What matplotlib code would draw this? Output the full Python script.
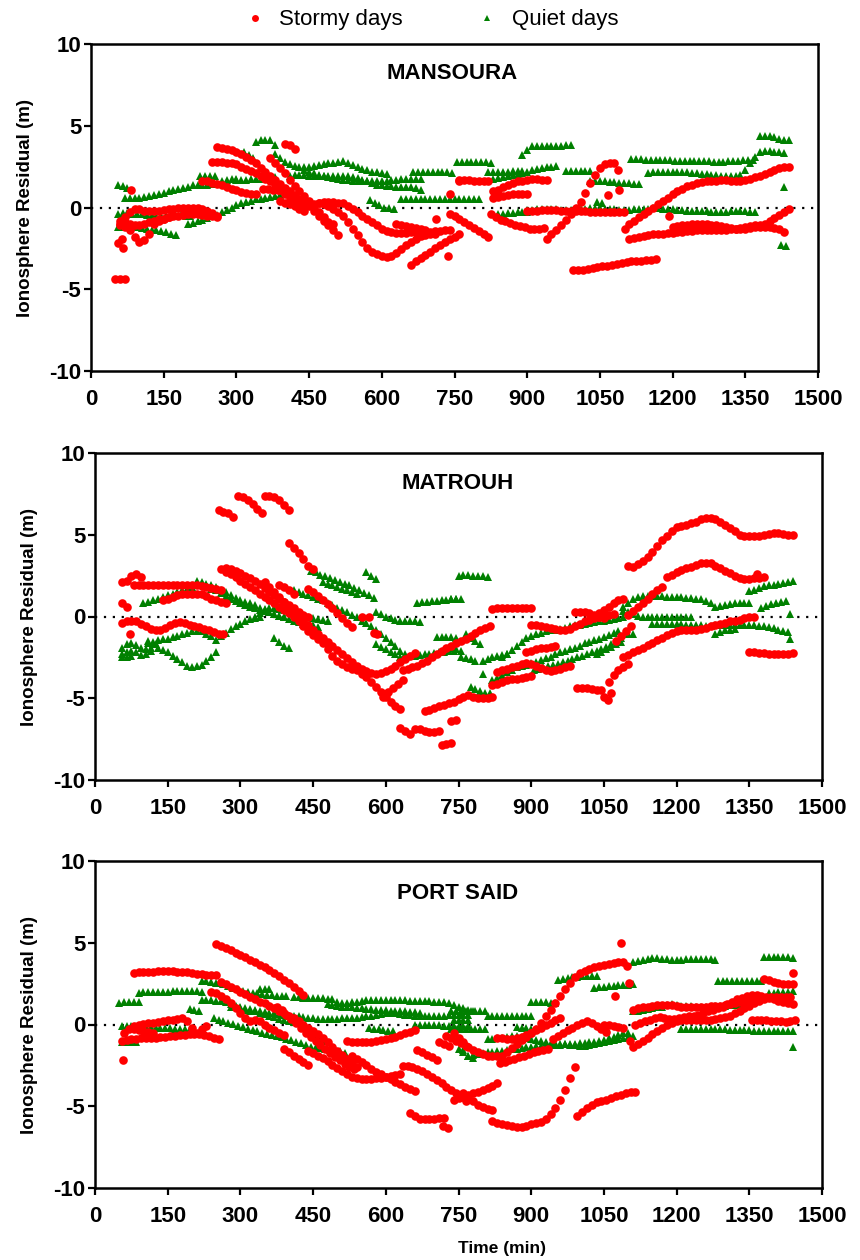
import matplotlib
matplotlib.use("Agg")
import matplotlib.pyplot as plt
from matplotlib.lines import Line2D

plt.rcParams["font.family"] = ["Liberation Sans", "DejaVu Sans"]
plt.rcParams["axes.unicode_minus"] = False

# every track is (start time in min, residuals sampled every STEP min)
STEP = 10

mansoura_storm = [
    (50, [-4.35, -4.35, -4.35]),
    (55, [-2.2]), (63, [-1.9]), (67, [-2.5]), (82, [1.05]),
    (60, [-1.0, -0.6, -0.3, -0.1, -0.1, -0.2, -0.2, -0.2, -0.2, -0.15, -0.1, -0.1, -0.05, 0.0, 0.0, 0.0,
          -0.05, -0.1, -0.2, -0.35, -0.5]),
    (60, [-1.1, -1.2, -1.4, -1.8, -2.1, -2.0, -1.6, -1.0, -0.8, -0.7, -0.6, -0.5, -0.5, -0.45, -0.4, -0.4,
          -0.4, -0.45, -0.5, -0.55, -0.6]),
    (60, [-0.8, -0.9, -1.0, -1.1, -1.1, -1.0, -0.9, -0.8, -0.7, -0.7, -0.6]),
    (260, [3.7, 3.65, 3.6, 3.5, 3.4, 3.25, 3.1, 2.9, 2.7, 2.4, 2.15, 1.9, 1.7, 1.45, 1.2, 1.0, 0.75, 0.55,
           0.35, 0.1, -0.2, -0.5, -0.8, -1.1, -1.4, -1.7]),
    (250, [2.8, 2.8, 2.8, 2.75, 2.7, 2.65, 2.5, 2.35, 2.25, 2.1, 1.9, 1.75, 1.6, 1.35, 1.05, 0.8, 0.6, 0.45,
           0.3, 0.2, 0.15, 0.2, 0.3, 0.35, 0.35, 0.35, 0.3, 0.25, 0.1, -0.1, -0.3, -0.5, -0.7, -0.9, -1.1,
           -1.3, -1.45, -1.5, -1.55, -1.55, -1.55, -1.5, -1.5, -1.5, -1.5, -1.5, -1.45, -1.45, -1.4, -1.4]),
    (470, [0.3, 0.2, 0.1, -0.1, -0.3, -0.5, -0.9, -1.3, -1.7, -2.1, -2.45, -2.7, -2.85, -2.95, -3.0, -2.95,
           -2.8, -2.55, -2.3, -2.1, -1.9, -1.75, -1.7, -1.65, -1.6]),
    (370, [3.0, 2.7, 2.4, 2.1, 1.7, 1.3, 1.0, 0.7, 0.4, 0.0, -0.3, -0.6, -0.9, -1.0]),
    (400, [3.9, 3.8, 3.6]),
    (230, [1.65, 1.6, 1.5, 1.45, 1.35, 1.25, 1.15, 1.05, 0.95, 0.9, 0.85, 0.8]),
    (355, [1.15, 1.15, 1.1, 1.1]),
    (390, [0.4, 0.3, 0.2, 0.1, -0.1, -0.2]),
    (630, [-1.0, -1.1, -1.15, -1.2, -1.25, -1.3, -1.35]),
    (660, [-3.5, -3.3, -3.1, -2.9, -2.7, -2.5, -2.3, -2.1, -1.95, -1.8, -1.65]),
    (737, [-2.95]), (712, [-0.7]), (740, [0.8]), (760, [1.6]),
    (760, [1.7, 1.7, 1.7, 1.65, 1.65, 1.65, 1.6]),
    (830, [1.0, 1.1, 1.25, 1.4, 1.5, 1.6, 1.65, 1.7, 1.75, 1.75, 1.7, 1.7]),
    (830, [0.6, 0.65, 0.7, 0.75, 0.8, 0.8, 0.8, 0.8]),
    (740, [-0.4, -0.55, -0.7, -0.9, -1.05, -1.25, -1.45, -1.6, -1.8]),
    (825, [-0.4, -0.6, -0.75, -0.85, -0.95, -1.05, -1.15, -1.2, -1.3, -1.3, -1.3, -1.25]),
    (900, [-0.2, -0.2, -0.2, -0.15, -0.15, -0.15, -0.15, -0.2, -0.2, -0.2, -0.2, -0.2, -0.2, -0.25, -0.25,
           -0.25, -0.3, -0.3, -0.3, -0.3, -0.3]),
    (940, [-1.9, -1.65, -1.4, -1.1, -0.75, -0.4, -0.05, 0.35, 0.9, 1.5, 2.0, 2.4, 2.65, 2.75, 2.75]),
    (1087, [2.3]), (1066, [0.75]), (1090, [1.05]), (1101, [-1.3]), (1193, [-0.5]),
    (995, [-3.85, -3.85, -3.8, -3.75, -3.7, -3.65, -3.6, -3.55, -3.5, -3.45, -3.4, -3.35, -3.3, -3.3, -3.25,
           -3.2, -3.2, -3.15]),
    (1110, [-1.0, -0.8, -0.6, -0.4, -0.2, 0.0, 0.2, 0.4, 0.6, 0.8, 1.0, 1.15, 1.3, 1.4, 1.5, 1.55, 1.6, 1.6,
            1.65, 1.7, 1.7, 1.65, 1.65, 1.65, 1.7, 1.75, 1.85, 1.95, 2.05, 2.2, 2.3, 2.4, 2.45, 2.45]),
    (1110, [-1.9, -1.85, -1.8, -1.75, -1.7, -1.65, -1.65, -1.6, -1.55, -1.55, -1.5, -1.5, -1.45, -1.45, -1.4,
            -1.4, -1.4, -1.4, -1.35, -1.35, -1.35, -1.3, -1.3, -1.25, -1.2, -1.15, -1.1, -1.05, -1.0, -0.85,
            -0.65, -0.45, -0.25, -0.1]),
    (1200, [-1.2, -1.15, -1.1, -1.05, -1.0, -1.0, -1.0, -1.0, -1.05, -1.1, -1.15, -1.2, -1.25, -1.3, -1.3,
            -1.3, -1.25, -1.2, -1.2, -1.2, -1.2, -1.25, -1.3, -1.5]),
]

mansoura_quiet = [
    (55, [1.35, 1.3, 1.2]),
    (70, [0.6, 0.6, 0.6, 0.6, 0.65, 0.7, 0.75, 0.85, 0.9, 1.0, 1.1, 1.15, 1.2, 1.25, 1.35, 1.35, 1.35, 1.4,
          1.45, 1.5, 1.6, 1.7, 1.75, 1.75]),
    (225, [1.95, 1.95, 1.95, 1.9]),
    (55, [-0.4, -0.35, -0.35, -0.4, -0.4, -0.4, -0.45, -0.45, -0.5, -0.5, -0.5, -0.5, -0.5, -0.45, -0.5, -0.5]),
    (55, [-1.2, -1.2, -1.2, -1.2, -1.2, -1.25, -1.3, -1.35, -1.4, -1.45, -1.5, -1.6, -1.7]),
    (200, [-1.0, -0.95, -0.85, -0.75, -0.65, -0.55, -0.45, -0.3, -0.15, 0.0, 0.15, 0.3, 0.35, 0.4, 0.5, 0.55,
           0.6, 0.65, 0.7, 0.75]),
    (300, [1.7, 1.7, 1.7, 1.75, 1.75, 1.75, 1.8, 1.8, 1.85]),
    (315, [3.4, 3.2, 3.0]),
    (340, [4.0, 4.1, 4.15, 4.1, 3.8]),
    (380, [3.3, 3.0, 2.8, 2.65, 2.55, 2.5, 2.5, 2.5, 2.55, 2.6, 2.65, 2.7, 2.75, 2.8, 2.85, 2.75, 2.6, 2.45,
           2.35, 2.3, 2.2, 2.15, 2.1, 2.05]),
    (410, [1.95, 2.0, 2.0, 2.0, 1.95, 1.95, 1.95, 1.95, 1.95, 1.9, 1.9, 1.9, 1.9, 1.85, 1.8, 1.7, 1.6, 1.5,
           1.4, 1.35, 1.3, 1.3, 1.25, 1.25, 1.25, 1.25, 1.2, 1.1]),
    (440, [2.3, 2.2, 2.1, 2.0, 1.9, 1.85, 1.8, 1.75, 1.7, 1.7, 1.65, 1.65, 1.6, 1.6, 1.6, 1.6, 1.65, 1.65,
           1.7, 1.7, 1.75, 1.75, 1.75, 1.75, 1.75]),
    (575, [0.45, 0.3, 0.15, 0.0, -0.05, -0.1]),
    (640, [0.55, 0.55, 0.5, 0.5, 0.5, 0.5, 0.5, 0.5, 0.5, 0.5, 0.5, 0.5, 0.5, 0.5, 0.5, 0.5, 0.5]),
    (665, [2.2, 2.2, 2.2, 2.2, 2.2, 2.15, 2.15, 2.15, 2.1]),
    (755, [2.8, 2.8, 2.8, 2.8, 2.8, 2.8, 2.8, 2.75]),
    (820, [2.15, 2.15, 2.2, 2.2, 2.2, 2.25, 2.25, 2.25]),
    (830, [1.75, 1.8, 1.85, 1.9, 2.0, 2.05, 2.1, 2.2, 2.3, 2.35, 2.4, 2.45, 2.5, 2.55]),
    (890, [3.2, 3.5, 3.75, 3.75, 3.75, 3.75, 3.75, 3.75, 3.75, 3.8, 3.8]),
    (980, [2.25, 2.25, 2.25, 2.25, 2.25, 2.25]),
    (1030, [1.65, 1.6, 1.6, 1.6, 1.55, 1.55, 1.5, 1.5, 1.5, 1.45, 1.45]),
    (840, [-0.4, -0.4, -0.35, -0.35, -0.3, -0.3, -0.25]),
    (900, [-0.15, -0.15, -0.1, -0.1, -0.1, -0.1, -0.1, -0.15, -0.15, -0.15, -0.1, -0.1, -0.1, -0.05, -0.05,
           -0.05, -0.1, -0.1, -0.1, -0.15, -0.15, -0.15, -0.1, -0.1, -0.1, -0.1, -0.05, -0.05, -0.1, -0.1,
           -0.1, -0.15, -0.15, -0.2, -0.2, -0.2, -0.2, -0.2, -0.25, -0.25, -0.25, -0.25, -0.2, -0.2, -0.2,
           -0.2, -0.25, -0.3]),
    (1045, [0.35, 0.3]),
    (1115, [2.95, 2.95, 2.95, 2.9, 2.9, 2.9, 2.9, 2.9, 2.9, 2.85, 2.85, 2.85, 2.85, 2.85, 2.85, 2.85, 2.85,
            2.8, 2.8, 2.8, 2.85, 2.85, 2.85, 2.9, 2.9, 2.9]),
    (1150, [2.1, 2.15, 2.2, 2.2, 2.2, 2.2, 2.2, 2.15, 2.15, 2.1, 2.1, 2.05, 2.05, 2.0, 2.0, 1.95, 1.95, 1.95,
            1.9]),
    (1340, [2.0, 2.3, 2.7, 3.1, 3.4, 3.45, 3.45, 3.4, 3.4, 3.35]),
    (1380, [4.4, 4.4, 4.35, 4.3, 4.2, 4.15, 4.15]),
    (1430, [1.25]), (1423, [-2.3]), (1433, [-2.35]),
]

matrouh_storm = [
    (55, [2.1, 2.2, 2.5, 2.6, 2.4]),
    (80, [1.9, 1.9, 1.95, 1.95, 1.95, 1.95, 1.95, 1.95, 1.95, 1.95, 1.95, 1.95, 1.9, 1.9, 1.85, 1.8, 1.75,
          1.7, 1.6]),
    (55, [0.8, 0.6]),
    (140, [1.0, 1.1, 1.2, 1.3, 1.35, 1.4, 1.4, 1.4, 1.35, 1.25, 1.1, 1.0, 0.9, 0.8]),
    (55, [-0.4, -0.3, -0.25, -0.3, -0.45, -0.6, -0.75, -0.85, -0.8, -0.7, -0.55, -0.4, -0.35, -0.4, -0.5,
          -0.6, -0.65, -0.75, -0.85, -0.95, -1.05, -1.1]),
    (72, [-1.1]),
    (255, [6.5, 6.4, 6.3, 6.1]),
    (295, [7.4, 7.3, 7.1, 6.9, 6.6, 6.3]),
    (350, [7.4, 7.35, 7.3, 7.1, 6.8, 6.5]),
    (400, [4.5, 4.2, 3.9, 3.5, 3.1, 2.9]),
    (260, [2.9, 2.75, 2.6, 2.4, 2.2, 2.0, 1.8, 1.6, 1.4, 1.2, 1.0, 0.8, 0.6, 0.4, 0.2, 0.0, -0.3, -0.6, -0.9,
           -1.15, -1.4, -1.65, -2.0, -2.4, -2.7, -2.9, -3.1, -3.2, -3.3, -3.5, -3.7, -4.0, -4.3, -4.6, -4.9,
           -5.2, -5.45, -5.65]),
    (270, [2.95, 2.9, 2.8, 2.65, 2.5, 2.35, 2.2, 2.0, 1.75, 1.5, 1.3, 1.1, 0.9, 0.7, 0.5, 0.3, 0.1, -0.05]),
    (350, [2.1, 1.8, 1.5, 1.2, 0.9, 0.6, 0.3, 0.0, -0.3, -0.55, -0.8, -1.05, -1.3, -1.55, -1.8, -2.05, -2.3,
           -2.55, -2.8, -3.0, -3.2, -3.35, -3.45, -3.5, -3.45, -3.35, -3.2, -3.0, -2.8, -2.6, -2.4, -2.25]),
    (440, [1.7, 1.5, 1.25, 1.0, 0.75, 0.5, 0.2, -0.1, -0.4, -0.65]),
    (380, [1.9, 1.8, 1.6, 1.4]),
    (550, [0.0]), (565, [-0.05]), (575, [-1.0]), (582, [-1.1]),
    (595, [-4.9, -4.6, -4.35, -4.1, -3.9]),
    (635, [-3.3, -3.2, -3.1, -3.0, -2.85, -2.7, -2.5, -2.3, -2.1, -1.95, -1.8, -1.65, -1.5, -1.35, -1.2,
           -1.0, -0.85, -0.7, -0.6]),
    (680, [-5.8, -5.7, -5.6, -5.5, -5.4, -5.3, -5.2, -5.05, -4.9, -4.8, -4.9, -5.0, -5.0, -5.0, -4.95]),
    (630, [-6.8, -7.0, -7.2]),
    (660, [-6.9, -6.9, -7.0, -7.05, -7.05, -7.0]),
    (715, [-7.85, -7.8, -7.75]),
    (735, [-6.4, -6.3]),
    (820, [0.45, 0.5, 0.5, 0.55, 0.55, 0.55, 0.55, 0.55, 0.55]),
    (900, [-0.5, -0.55, -0.6, -0.65, -0.7, -0.75, -0.8, -0.8, -0.75, -0.6, -0.45, -0.3, -0.2, -0.1, 0.0,
           0.05, 0.1, 0.15]),
    (990, [0.3, 0.3, 0.25, 0.2, 0.1, 0.0, -0.1]),
    (1040, [0.2, 0.4, 0.6, 0.8, 1.0, 1.1]),
    (820, [-4.2, -4.1, -4.0, -3.9, -3.85, -3.8, -3.75, -3.7, -3.65]),
    (830, [-3.4, -3.3, -3.2, -3.1, -3.0, -2.9, -2.85, -2.9, -3.0, -3.15, -3.3, -3.35, -3.3, -3.2, -3.1, -3.0]),
    (890, [-2.2, -2.1, -2.0, -1.95, -1.9, -1.85, -1.8]),
    (995, [-4.35, -4.35, -4.4, -4.45, -4.5, -4.5]),
    (1050, [-4.9]), (1058, [-5.1]), (1065, [-4.7]),
    (1060, [-4.0, -3.6, -3.3, -3.1, -2.9]),
    (1075, [-1.5, -1.2, -0.9, -0.6]),
    (1090, [-2.5, -2.35, -2.2, -2.05, -1.9, -1.75, -1.6, -1.45, -1.3, -1.15, -1.0, -0.9, -0.85, -0.8, -0.8,
            -0.8, -0.75, -0.7, -0.6, -0.5, -0.45, -0.4, -0.3, -0.25, -0.2, -0.1, -0.05, 0.0]),
    (1100, [0.1, 0.35, 0.6, 0.85, 1.1, 1.35, 1.6, 1.8]),
    (1180, [2.4, 2.55, 2.7, 2.85, 2.95, 3.05, 3.15, 3.25, 3.3, 3.25, 3.1, 2.95, 2.8, 2.65, 2.5, 2.35, 2.3,
            2.3, 2.35, 2.35, 2.4]),
    (1365, [2.6]),
    (1100, [3.1, 3.0, 3.2, 3.4, 3.65, 3.95, 4.3, 4.65, 4.95, 5.25, 5.45, 5.55, 5.6, 5.7, 5.8, 5.95, 6.05,
            6.05, 5.95, 5.8, 5.6, 5.4, 5.2, 5.0, 4.95, 4.95, 4.95, 4.95, 5.0, 5.05, 5.1, 5.1, 5.05, 5.0, 5.0]),
    (1350, [-2.2, -2.2, -2.25, -2.25, -2.3, -2.3, -2.3, -2.3, -2.3, -2.25]),
]

matrouh_quiet = [
    (55, [-1.9, -1.7, -1.6, -1.75, -1.9, -2.0, -1.9, -1.7]),
    (55, [-2.3, -2.2, -2.1, -2.2, -2.35, -2.3, -2.1]),
    (55, [-2.5, -2.45, -2.4]),
    (110, [-1.5, -1.7, -1.9, -2.05, -2.2, -2.4, -2.6, -2.8, -3.0, -3.1, -3.05, -2.95, -2.7, -2.45, -2.2]),
    (110, [-1.65, -1.55, -1.45, -1.4, -1.35, -1.27, -1.2, -1.1, -1.0, -0.9, -0.86, -0.9, -1.05, -1.2]),
    (250, [-1.45, -1.2, -1.0, -0.75, -0.6, -0.45, -0.3, -0.15, -0.1, -0.05]),
    (100, [0.8, 0.9, 1.0, 1.1, 1.2, 1.3, 1.4, 1.5, 1.6, 1.7, 1.8, 1.95, 1.95, 1.85, 1.7, 1.6, 1.45, 1.25,
           1.05, 0.95, 0.8, 0.7, 0.6, 0.5, 0.4, 0.35, 0.25, 0.15, 0.05, -0.05, -0.15, -0.25, -0.35, -0.45,
           -0.5, -0.55, -0.65]),
    (210, [2.2, 2.1, 2.0, 1.9, 1.8, 1.65, 1.5, 1.3, 1.15, 1.0, 0.9, 0.8, 0.7, 0.55, 0.4, 0.3, 0.15, 0.05,
           -0.05]),
    (330, [-0.05, 0.2, 0.45, 0.55, 0.5, 0.45, 0.4, 0.3, 0.2, 0.1, 0.0, -0.05, -0.1, -0.15, -0.2, -0.25]),
    (370, [-1.3, -1.55, -1.8, -1.9]),
    (410, [1.6, 1.5, 1.4, 1.3, 1.2, 1.1, 1.0, 0.85, 0.7, 0.55, 0.4, 0.25, 0.1, -0.05, -0.25, -0.4, -0.6,
           -0.85, -1.1, -1.3, -1.55, -1.8, -2.1, -2.3]),
    (445, [2.8, 2.7, 2.55, 2.45, 2.35, 2.25, 2.1, 2.0, 1.9, 1.75, 1.6, 1.45, 1.3, 1.15]),
    (470, [2.1, 2.0, 1.9, 1.8, 1.7, 1.6, 1.5, 1.4]),
    (560, [2.7, 2.5, 2.3]),
    (580, [0.3, 0.15, 0.0, -0.1, -0.2, -0.25]),
    (640, [-0.25, -0.3, -0.3, -0.35]),
    (665, [0.85, 0.9, 0.9, 0.95, 0.95, 1.0, 1.0, 1.05, 1.05]),
    (705, [-1.25, -1.25, -1.25, -1.25, -1.3]),
    (630, [-2.5, -2.45, -2.4, -2.4, -2.35, -2.3, -2.3, -2.25, -2.2, -2.15, -2.1, -2.1]),
    (580, [-1.7, -1.85, -2.0, -2.15, -2.3]),
    (750, [2.5, 2.55, 2.55, 2.5, 2.45, 2.45, 2.4]),
    (735, [1.05, 1.1, 1.1]),
    (735, [-1.95, -2.0, -2.1]),
    (755, [-2.5, -2.55, -2.6, -2.7]),
    (765, [-1.1, -1.3, -1.5, -1.7]),
    (800, [-2.7, -2.6, -2.5, -2.4, -2.35, -2.3]),
    (775, [-4.3, -4.45, -4.55, -4.65, -4.7]),
    (800, [-3.5]),
    (820, [-3.9, -3.75, -3.55, -3.4, -3.25, -3.1, -3.0, -2.95, -2.85, -2.8, -2.65, -2.55, -2.45, -2.3, -2.2,
           -2.1, -2.0, -1.9, -1.8, -1.65, -1.55, -1.45, -1.35, -1.25, -1.15, -1.0, -0.9]),
    (840, [-2.5, -2.3, -2.05, -1.8, -1.55, -1.3, -1.2, -1.1, -1.0, -0.9, -0.85, -0.8, -0.75, -0.7, -0.6,
           -0.55, -0.5, -0.45, -0.4, -0.35, -0.3, -0.25, -0.2, -0.15, -0.1, -0.05]),
    (905, [-3.3, -3.2, -3.1, -3.05, -2.95, -2.9, -2.8, -2.75, -2.6, -2.5, -2.4, -2.3, -2.2, -2.1, -2.0,
           -1.85, -1.7, -1.5, -1.3]),
    (1035, [-2.3, -2.15, -2.0, -1.85, -1.7, -1.55]),
    (1100, [-1.05, -1.1]),
    (1090, [0.6, 0.8, 1.05, 1.2, 1.25, 1.25, 1.25, 1.25, 1.25, 1.2, 1.2, 1.2, 1.2, 1.15, 1.15, 1.1, 1.05,
            0.95, 0.8, 0.6, 0.65, 0.7, 0.75, 0.8, 0.85, 0.85, 0.85]),
    (1090, [0.35, 0.25, 0.15, 0.05, 0.0, 0.0, 0.0, 0.0, 0.0, 0.0, 0.0, 0.0, 0.0, -0.05, -0.05]),
    (1150, [-0.45, -0.45, -0.45, -0.45, -0.45, -0.45, -0.45, -0.5, -0.5, -0.5, -0.55, -0.6, -0.6, -0.55,
            -0.5, -0.5, -0.5, -0.5, -0.5, -0.5, -0.5, -0.55, -0.6, -0.6, -0.65, -0.7, -0.8, -0.9, -0.95]),
    (1350, [1.55, 1.65, 1.75, 1.85, 1.9, 1.95, 2.0, 2.05, 2.1, 2.2]),
    (1375, [0.55, 0.65, 0.75, 0.85, 0.9, 0.95]),
    (1280, [-1.05, -0.95, -0.85, -0.8, -0.75]),
    (1433, [0.15]), (1433, [-1.4]),
]

portsaid_storm = [
    (58, [-2.15]),
    (60, [-0.5, -0.3, -0.1, 0.0, 0.05, 0.1, 0.1, 0.15, 0.2, 0.25, 0.3, 0.35, 0.4, 0.2, -0.2, -0.5, -0.3,
          -0.1]),
    (80, [-0.3, -0.35, -0.4, -0.45, -0.5]),
    (55, [-1.0, -0.95, -0.9, -0.9, -0.85, -0.85, -0.8, -0.8, -0.75, -0.75, -0.7, -0.7, -0.65, -0.65, -0.6,
          -0.6, -0.6, -0.65, -0.7, -0.8, -0.9]),
    (80, [3.15, 3.2, 3.2, 3.2, 3.2, 3.25, 3.25, 3.25, 3.25, 3.2, 3.2, 3.2, 3.15, 3.1, 3.1, 3.05, 3.05, 3.0]),
    (250, [4.9, 4.8, 4.7, 4.55, 4.4, 4.25, 4.1, 3.95, 3.8, 3.65, 3.5, 3.35, 3.15, 2.95, 2.75, 2.55, 2.3,
           2.05, 1.8]),
    (260, [2.6, 2.45, 2.3, 2.15, 2.0, 1.85, 1.7, 1.55, 1.4, 1.3, 1.15, 1.0, 0.85, 0.7, 0.55, 0.4, 0.2, 0.0,
           -0.2, -0.4, -0.6, -0.85, -1.1, -1.35, -1.6, -1.85, -2.1, -2.35, -2.6]),
    (240, [2.0, 1.9, 1.75, 1.55, 1.3, 1.0, 0.7, 0.4, 0.2, 0.3, 0.2, 0.0, -0.2, -0.35, -0.5, -0.65]),
    (375, [1.1, 0.9, 0.6, 0.35, 0.1, -0.2, -0.5, -0.75, -1.0, -1.25, -1.5, -1.75, -2.0, -2.2, -2.4, -2.6,
           -2.75]),
    (390, [-1.5, -1.7, -1.9, -2.1, -2.3, -2.5]),
    (440, [-1.6, -1.75, -1.9, -2.05, -2.25, -2.45, -2.65, -2.85, -3.05, -3.2, -3.3, -3.35, -3.35, -3.35,
           -3.3, -3.25, -3.2, -3.15, -3.1, -3.05]),
    (530, [-1.9, -2.1, -2.3, -2.5, -2.7, -2.9, -3.05, -3.2, -3.35, -3.5, -3.65, -3.8, -3.95, -4.05]),
    (520, [-1.0, -1.05, -1.1, -1.1, -1.1, -1.05, -1.0, -0.95, -0.9, -0.85, -0.75, -0.65, -0.55, -0.45,
           -0.35]),
    (635, [-2.55, -2.55, -2.6, -2.7, -2.85, -3.0, -3.2, -3.4, -3.6, -3.8, -4.0, -4.2, -4.45, -4.7]),
    (650, [-5.4, -5.6, -5.75, -5.8, -5.8, -5.75, -5.7, -5.7]),
    (718, [-6.2, -6.3]),
    (665, [-1.55, -1.7, -1.85, -2.0, -2.15]),
    (710, [-1.1, -1.2, -1.3]),
    (725, [-0.7, -0.85, -1.0, -1.15, -1.3]),
    (740, [-4.6, -4.5, -4.4, -4.3, -4.2, -4.1, -4.0, -3.9, -3.75, -3.6]),
    (760, [-4.2, -4.45, -4.7, -4.9, -5.05, -5.15, -5.2]),
    (820, [-5.9, -6.0, -6.1, -6.15, -6.2, -6.25, -6.25, -6.2, -6.1, -6.0, -5.95, -5.8, -5.5, -5.1, -4.6,
           -4.0, -3.3, -2.6]),
    (995, [-5.6, -5.35, -5.1, -4.9, -4.75, -4.7, -4.6, -4.5, -4.4, -4.3, -4.2, -4.15, -4.1]),
    (740, [-0.5, -0.8, -1.1, -1.35, -1.55, -1.7, -1.8, -1.9, -1.95, -1.95, -1.9, -1.7, -1.45, -1.2, -0.95,
           -0.75, -0.55, -0.3, 0.1, 0.5, 0.9, 1.3, 1.75, 2.15, 2.55, 2.9, 3.15, 3.3, 3.4, 3.5, 3.55, 3.65,
           3.7, 3.75, 3.8, 3.85]),
    (1085, [5.0]), (1097, [3.6]), (1102, [2.55]), (1072, [1.75]),
    (830, [-0.8, -0.85, -0.9, -0.9, -0.85, -0.75, -0.65, -0.5, -0.35, -0.2, -0.05, 0.1, 0.25, 0.4]),
    (945, [-0.9, -0.7, -0.5, -0.35, -0.2, -0.05, 0.1, 0.2, 0.1, -0.1, -0.3, -0.45]),
    (1050, [0.0, -0.05, -0.1, -0.15, -0.2]),
    (1103, [-1.0]),
    (835, [-2.35, -2.3, -2.2, -2.1, -2.0, -1.9, -1.8, -1.7, -1.6, -1.55, -1.5]),
    (1110, [0.9, 1.0, 1.05, 1.1, 1.15, 1.2, 1.2, 1.2, 1.2, 1.15, 1.1, 1.05, 1.05, 1.1, 1.1, 1.1, 1.15, 1.15,
            1.15, 1.2, 1.25, 1.3, 1.4, 1.45, 1.5, 1.6, 1.65, 1.65, 1.6, 1.55, 1.45, 1.35, 1.3, 1.25]),
    (1115, [0.0, 0.1, 0.2, 0.3, 0.4, 0.45, 0.4, 0.35, 0.35, 0.4, 0.45, 0.5, 0.55, 0.6, 0.7, 0.8, 0.9, 1.0,
            1.1, 1.25, 1.4, 1.55, 1.65, 1.75, 1.8, 1.8, 1.75, 1.7, 1.7, 1.7, 1.7, 1.7, 1.7]),
    (1110, [-1.4, -1.2, -1.0, -0.8, -0.6, -0.4, -0.2, 0.0, 0.1, 0.2, 0.3, 0.3, 0.3, 0.25, 0.25, 0.25, 0.3,
            0.35, 0.4, 0.45, 0.55, 0.7, 0.85, 1.0, 1.15, 1.3, 1.45, 1.55]),
    (1355, [0.3, 0.3, 0.25, 0.25, 0.2, 0.2, 0.2, 0.15, 0.2, 0.3]),
    (1380, [2.8, 2.7, 2.6, 2.55, 2.5, 2.5, 2.5]),
    (1440, [3.15]),
]

portsaid_quiet = [
    (50, [1.3, 1.35, 1.35, 1.4, 1.4]),
    (90, [1.95, 2.0, 2.0, 2.0, 2.0, 2.0, 2.0, 2.05, 2.05, 2.05, 2.05, 2.05, 2.05, 2.0]),
    (220, [2.65, 2.65, 2.6, 2.55]),
    (340, [2.15, 2.15, 2.15]),
    (255, [2.55, 2.45, 2.35, 2.25, 2.15, 2.05, 2.0, 1.95, 1.9, 1.85, 1.8, 1.8, 1.75, 1.75, 1.75]),
    (410, [1.7, 1.7, 1.65, 1.65, 1.65, 1.6, 1.6, 1.55, 1.55, 1.4, 1.3, 1.3, 1.35, 1.4, 1.45, 1.5, 1.5, 1.5,
           1.5, 1.5, 1.5, 1.5, 1.5, 1.5, 1.45, 1.45, 1.45, 1.45, 1.45, 1.4, 1.4, 1.35, 1.3, 1.2, 1.1, 1.0,
           0.9, 0.85]),
    (220, [1.5, 1.5, 1.48, 1.45, 1.43, 1.35, 1.25, 1.15, 1.05, 1.0, 0.95, 0.9, 0.8, 0.75, 0.72, 0.68, 0.65,
           0.6, 0.55, 0.52, 0.5, 0.45, 0.4, 0.38, 0.33, 0.31, 0.32, 0.33, 0.35, 0.37, 0.39, 0.4, 0.41, 0.45,
           0.5, 0.55, 0.6, 0.65, 0.7, 0.72, 0.7, 0.65, 0.6, 0.57, 0.55, 0.52, 0.51, 0.52, 0.53, 0.54, 0.55,
           0.56, 0.57, 0.58, 0.59, 0.6]),
    (480, [1.25, 1.2, 1.15, 1.1, 1.1, 1.05, 1.0, 1.0, 0.95, 0.95, 0.9, 0.9, 0.9, 0.85, 0.85, 0.8, 0.8, 0.75,
           0.75, 0.7]),
    (195, [0.95, 0.9, 0.85]),
    (55, [-0.1, -0.1, -0.12, -0.13, -0.15, -0.15, -0.17, -0.2, -0.2, -0.22, -0.23, -0.25, -0.27, -0.28,
          -0.3]),
    (55, [-1.1, -1.1, -1.1, -1.1]),
    (245, [0.4, 0.3, 0.22, 0.12, 0.02, -0.08, -0.18, -0.27, -0.34, -0.41, -0.49, -0.57, -0.64, -0.71,
           -0.79, -0.87, -0.95, -1.05, -1.15, -1.25, -1.35, -1.4, -1.45, -1.5, -1.55, -1.6, -1.65, -1.75]),
    (280, [1.1, 1.05, 1.0, 0.9, 0.85, 0.8, 0.72, 0.65, 0.55, 0.45, 0.35, 0.3, 0.22, 0.15, 0.1]),
    (455, [-0.7, -0.85, -1.0]),
    (565, [-0.2, -0.25, -0.3, -0.35, -0.4, -0.4]),
    (660, [0.0, 0.0, -0.02, -0.05, -0.05, -0.05, -0.07, -0.08, -0.1, -0.1, -0.1, -0.1]),
    (740, [0.25, 0.25, 0.25, 0.25]),
    (760, [-1.55]),
    (735, [0.8, 0.8, 0.8, 0.8, 0.8, 0.8, 0.8, 0.8]),
    (735, [-0.3, -0.3, -0.3, -0.3, -0.3, -0.3, -0.3, -0.3]),
    (810, [0.5, 0.5, 0.5, 0.5, 0.5, 0.5, 0.5, 0.5, 0.5, 0.5]),
    (900, [1.35, 1.35, 1.35, 1.35, 1.3, 1.3]),
    (955, [2.75, 2.8, 2.85, 2.9, 2.9, 2.95, 2.95, 2.95, 2.95]),
    (1030, [2.25, 2.3, 2.3, 2.35, 2.35, 2.4, 2.4, 2.4, 2.45]),
    (1110, [3.85, 3.9, 3.95, 4.0, 4.05, 4.05, 4.0, 4.0, 3.95, 3.95, 3.95, 4.0, 4.0, 4.0, 4.0, 4.0, 4.0,
            3.95]),
    (1285, [2.65, 2.65, 2.65, 2.65, 2.65, 2.65, 2.65, 2.65, 2.65, 2.65]),
    (1380, [4.1, 4.1, 4.1, 4.1, 4.1, 4.1, 4.05]),
    (1390, [1.95, 1.95, 2.0, 2.0, 2.0, 2.05]),
    (1110, [0.8, 0.85, 0.9, 0.95, 1.0, 1.05, 1.1, 1.2, 1.25, 1.2, 1.15, 1.15, 1.15, 1.1, 1.1, 1.1, 1.1, 1.15,
            1.15, 1.15, 1.2, 1.2, 1.2, 1.25, 1.25]),
    (1210, [-0.3, -0.3, -0.3, -0.3, -0.3, -0.3, -0.3, -0.3, -0.3, -0.3, -0.35, -0.35, -0.35, -0.35, -0.35,
            -0.4, -0.4, -0.4, -0.4, -0.4, -0.4, -0.4, -0.4, -0.4]),
    (810, [-0.9, -0.87, -0.83, -0.8, -0.77, -0.73, -0.71, -0.76, -0.82, -0.88, -0.94, -1.0, -1.06, -1.12,
           -1.15, -1.18, -1.21, -1.24, -1.27, -1.3, -1.32, -1.25, -1.2, -1.14, -1.08, -1.02, -0.95, -0.88,
           -0.82, -0.76, -0.71]),
    (770, [-1.9, -1.85, -1.8, -1.75, -1.7, -1.67, -1.64, -1.6, -1.56, -1.52, -1.48, -1.44, -1.4, -1.35,
           -1.32, -1.3, -1.28, -1.26, -1.24, -1.23, -1.22, -1.2, -1.17, -1.14, -1.11, -1.08, -1.05, -1.02,
           -0.95, -0.85, -0.75, -0.65, -0.55, -0.5]),
    (750, [-1.5, -1.7, -1.9, -2.05]),
    (870, [-0.15, -0.2, -0.2, -0.25, -0.3]),
    (1440, [-1.35]),
]

station_names = ["MANSOURA", "MATROUH", "PORT SAID"]
storm_sets = [mansoura_storm, matrouh_storm, portsaid_storm]
quiet_sets = [mansoura_quiet, matrouh_quiet, portsaid_quiet]

x_ticks = list(range(0, 1501, 150))
y_ticks = [-10, -5, 0, 5, 10]


def expand(tracks):
    t, y = [], []
    for t0, ys in tracks:
        for i, v in enumerate(ys):
            t.append(t0 + STEP * i)
            y.append(v)
    return t, y


W, H = 860, 1260
fig = plt.figure(figsize=(W / 100, H / 100), dpi=100)

# axes boxes in pixels: left, top, right, bottom
boxes = [(91, 44, 818, 371), (95, 453, 822, 780), (95, 861, 822, 1188)]
title_pos = [(0.497, 0.91), (0.499, 0.908), (0.499, 0.902)]

RED = "#ff0000"
GREEN = "#008000"

for k in range(3):
    l, t, r, b = boxes[k]
    ax = fig.add_axes([l / W, 1 - b / H, (r - l) / W, (b - t) / H])

    ax.axhline(0, color="black", lw=1.6, ls=(0, (1, 3)), zorder=1)

    qt, qy = expand(quiet_sets[k])
    ax.plot(qt, qy, "^", color=GREEN, ms=6.3, mew=0, zorder=2)
    st, sy = expand(storm_sets[k])
    ax.plot(st, sy, "o", color=RED, ms=6.2, mew=0, zorder=3)

    ax.set_xlim(0, 1500)
    ax.set_ylim(-10, 10)
    ax.set_xticks(x_ticks)
    ax.set_yticks(y_ticks)
    ax.tick_params(direction="out", length=5, width=1.6, labelsize=16)
    ax.tick_params(axis="x", pad=8)
    ax.tick_params(axis="y", pad=2)
    for lab in ax.get_xticklabels() + ax.get_yticklabels():
        lab.set_fontweight("bold")
    for sp in ax.spines.values():
        sp.set_linewidth(1.8)

    ax.set_ylabel("Ionosphere Residual (m)", fontsize=13.5, fontweight="bold", labelpad=11)
    ax.text(title_pos[k][0], title_pos[k][1], station_names[k], transform=ax.transAxes,
            ha="center", va="center", fontsize=16, fontweight="bold")

fig.text(502 / W, 1 - 1248 / H, "Time (min)", ha="center", va="center",
         fontsize=12.5, fontweight="bold")

handles = [Line2D([], [], ls="none", marker="o", color=RED, ms=5, mew=0),
           Line2D([], [], ls="none", marker="^", color=GREEN, ms=5, mew=0)]
fig.legend(handles, ["Stormy days", "Quiet days"], loc="center", ncol=2,
           bbox_to_anchor=(431 / W, 1 - 20 / H), frameon=False, fontsize=16,
           handletextpad=0.6, columnspacing=3.3, handlelength=1.0)

fig.savefig("out.png", dpi=100)
